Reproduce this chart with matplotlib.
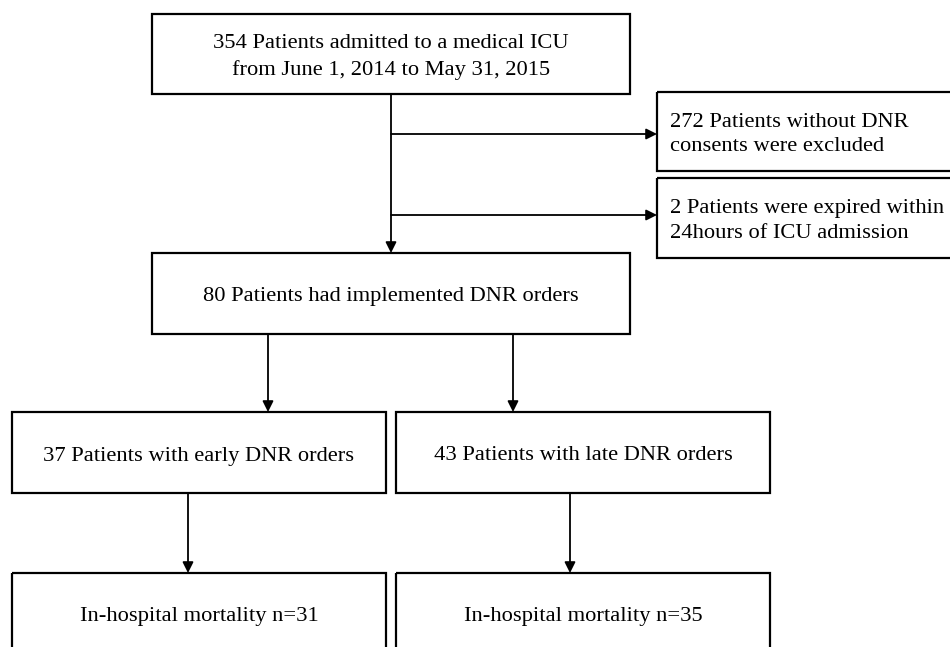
import matplotlib.pyplot as plt
from matplotlib.patches import Rectangle

plt.rcParams['font.family'] = ['Liberation Serif', 'DejaVu Serif']

# box texts
top_text = "354 Patients admitted to a medical ICU\nfrom June 1, 2014 to May 31, 2015"
excl_texts = ["272 Patients without DNR\nconsents were excluded",
              "2 Patients were expired within\n24hours of ICU admission"]
mid_text = "80 Patients had implemented DNR orders"
group_texts = ["37 Patients with early DNR orders", "43 Patients with late DNR orders"]
outcome_texts = ["In-hospital mortality n=31", "In-hospital mortality n=35"]

fig = plt.figure(figsize=(9.5, 6.47), dpi=100)
ax = fig.add_axes([0, 0, 1, 1])
ax.set_xlim(0, 950)
ax.set_ylim(647, 0)
ax.axis('off')

FS = 16.2
LW = 1.6


def box(x0, y0, x1, y1):
    ax.add_patch(Rectangle((x0, y0), x1 - x0, y1 - y0, fill=False,
                           edgecolor='black', linewidth=LW, clip_on=False))


def arrow(x0, y0, x1, y1):
    ax.annotate("", xy=(x1, y1), xytext=(x0, y0),
                arrowprops=dict(arrowstyle='-|>', color='black', lw=1.3,
                                mutation_scale=16, shrinkA=0, shrinkB=0))


# top box
box(152, 14, 630, 94)
ax.text(391, 57, top_text, ha='center', va='center', fontsize=FS, linespacing=1.42)

# exclusion boxes
excl_y = [(92, 171), (178, 258)]
for (y0, y1), t in zip(excl_y, excl_texts):
    box(657, y0, 955, y1)
    ax.text(670, (y0 + y1) / 2 + 3, t, ha='left', va='center', fontsize=FS, linespacing=1.42)

arrow(391, 94, 391, 253)
arrow(391, 134, 657, 134)
arrow(391, 215, 657, 215)

# middle box
box(152, 253, 630, 334)
ax.text(391, 296, mid_text, ha='center', va='center', fontsize=FS)

# group boxes
group_x = [(12, 386), (396, 770)]
split_x = [268, 513]
drop_x = [188, 570]
for (x0, x1), sx, dx, gt, ot in zip(group_x, split_x, drop_x, group_texts, outcome_texts):
    arrow(sx, 334, sx, 412)
    box(x0, 412, x1, 493)
    ax.text((x0 + x1) / 2, 456, gt, ha='center', va='center', fontsize=FS)
    arrow(dx, 493, dx, 573)
    box(x0, 573, x1, 660)
    ax.text((x0 + x1) / 2, 616, ot, ha='center', va='center', fontsize=FS)

fig.savefig("out.png", dpi=100)
